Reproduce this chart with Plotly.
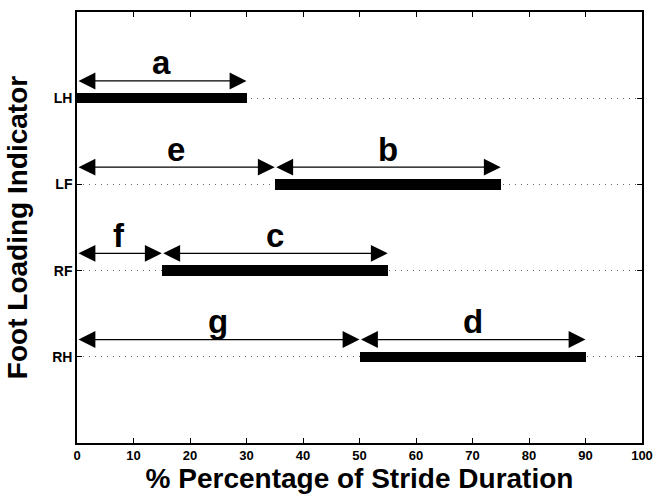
import plotly.graph_objects as go

# Foot loading (stance) intervals as % of stride duration
feet = ["LH", "LF", "RF", "RH"]
foot_level = [4, 3, 2, 1]
stance_start = [0, 35, 15, 50]
stance_end = [30, 75, 55, 90]

# Labelled phase intervals drawn as double-headed arrows above each foot row
interval_label = ["a", "e", "b", "f", "c", "g", "d"]
interval_foot = ["LH", "LF", "LF", "RF", "RF", "RH", "RH"]
interval_start = [0, 0, 35, 0, 15, 0, 50]
interval_end = [30, 35, 75, 15, 55, 50, 90]

x_ticks = list(range(0, 101, 10))

BOLD = "Liberation Sans"

fig = go.Figure()

fig.add_trace(go.Bar(
    y=foot_level,
    x=[e - s for s, e in zip(stance_start, stance_end)],
    base=stance_start,
    orientation="h",
    width=0.12,
    marker=dict(color="black", line=dict(width=0)),
    showlegend=False,
    hoverinfo="skip",
))

level_of = dict(zip(feet, foot_level))
arrow_rise = 0.2
label_rise = 0.41
for lab, foot, s, e in zip(interval_label, interval_foot, interval_start, interval_end):
    yv = level_of[foot] + arrow_rise
    fig.add_annotation(
        x=e, y=yv, ax=s, ay=yv, xref="x", yref="y", axref="x", ayref="y",
        text="", showarrow=True, arrowside="end+start",
        arrowhead=2, startarrowhead=2, arrowsize=2.6, startarrowsize=2.6,
        arrowwidth=1.3, arrowcolor="black", standoff=0, startstandoff=0,
    )
    fig.add_annotation(
        x=(s + e) / 2, y=level_of[foot] + label_rise, xref="x", yref="y",
        text=lab, showarrow=False, yanchor="middle",
        font=dict(family=BOLD, size=33, color="black", weight="bold"),
    )

fig.update_layout(
    width=663, height=499,
    margin=dict(l=77, r=13, t=10, b=56),
    plot_bgcolor="white", paper_bgcolor="white",
    bargap=0,
)
fig.update_xaxes(
    range=[0, 100], tickvals=x_ticks, ticktext=[str(v) for v in x_ticks],
    ticks="inside", ticklen=5, tickwidth=1, tickcolor="black",
    showline=True, linecolor="black", linewidth=1.5, mirror="ticks",
    showgrid=False, zeroline=False,
    tickfont=dict(family=BOLD, size=13, color="black", weight="bold"),
    title=dict(text="% Percentage of Stride Duration", standoff=5,
               font=dict(family=BOLD, size=28, color="black", weight="bold")),
)
fig.update_yaxes(
    range=[0, 5], tickvals=foot_level, ticktext=feet,
    ticks="inside", ticklen=5, tickwidth=1, tickcolor="black",
    showline=True, linecolor="black", linewidth=1.5, mirror="ticks",
    showgrid=True, gridcolor="#666666", gridwidth=1, griddash="1px,5px",
    zeroline=False,
    tickfont=dict(family=BOLD, size=14, color="black", weight="bold"),
    title=dict(text="Foot Loading Indicator", standoff=16,
               font=dict(family=BOLD, size=28, color="black", weight="bold")),
)

fig.write_html("out.html")
